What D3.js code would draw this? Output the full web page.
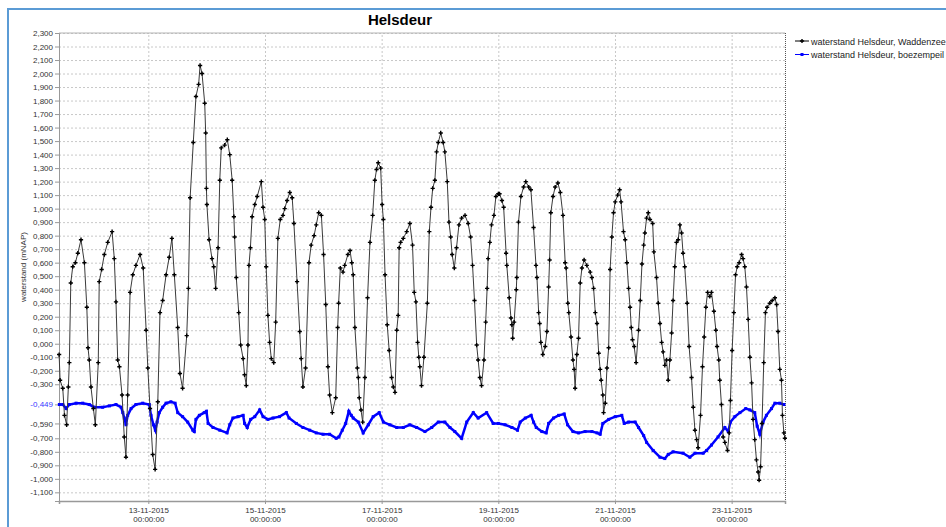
<!DOCTYPE html>
<html>
<head>
<meta charset="utf-8">
<title>Helsdeur</title>
<script src="https://cdn.jsdelivr.net/npm/d3@7"></script>
<style>
  body { margin: 0; background: #fff; }
  svg { display: block; font-family: "Liberation Sans", Arial, sans-serif; }
</style>
</head>
<body>
<div id="chart"></div>
<script>
// hours since 11-11-2015 00:00
const t0 = new Date(2015, 10, 11, 0, 0, 0);
const xStartHours = 11.25, xEndHours = 309.95;

const wadHours = [11.3,11.7,12.8,13.5,14.4,15.1,15.5,16.1,16.9,18.0,19.0,20.3,21.7,22.7,23.2,23.7,24.4,25.4,26.2,27.4,27.8,28.8,29.9,31.3,33.1,34.0,34.7,35.4,36.1,37.2,38.1,38.8,39.5,40.5,41.6,42.9,44.6,45.9,47.1,47.8,48.7,49.8,50.8,51.9,52.8,53.9,55.3,56.6,57.7,58.7,60.1,61.0,62.1,63.8,64.5,65.2,66.5,67.6,68.7,69.3,70.1,71.2,71.6,71.9,72.1,73.0,74.2,74.9,75.7,76.7,77.4,78.0,79.4,80.5,81.5,82.5,83.2,83.5,84.2,85.2,86.0,87.0,87.6,88.3,89.0,89.4,90.0,90.7,91.8,92.8,94.5,95.2,95.9,96.5,97.2,97.9,98.6,99.6,100.4,101.3,102.3,103.4,104.1,105.1,106.2,107.2,107.9,109.2,110.3,110.9,111.6,112.7,114.1,115.0,116.2,117.1,118.1,119.2,120.1,121.0,121.9,122.6,123.7,125.1,125.9,126.3,127.0,128.1,128.8,130.1,131.0,131.7,132.3,133.0,134.0,134.4,134.8,135.5,136.2,137.1,138.2,139.2,140.3,141.2,141.9,142.6,143.6,144.2,144.7,145.4,146.3,147.1,148.1,148.8,149.5,150.2,150.8,151.2,151.8,152.9,154.3,155.6,156.7,157.4,158.1,158.8,159.3,159.7,160.4,161.4,162.8,163.6,164.3,165.0,165.9,166.6,167.3,168.3,169.3,170.0,171.0,171.7,172.4,173.0,173.9,174.8,175.8,176.9,178.3,179.6,180.6,181.4,182.2,183.1,183.7,184.4,185.1,186.1,186.8,187.4,187.8,188.5,189.2,190.2,191.0,192.0,192.5,193.5,194.2,195.2,195.5,196.5,197.2,197.6,197.9,198.5,199.4,199.6,200.3,201.3,202.4,203.3,204.5,205.4,206.5,207.5,207.9,208.6,209.0,209.5,210.3,211.3,212.0,212.7,213.1,213.6,214.5,215.4,216.5,217.5,218.6,219.5,219.9,220.6,221.0,221.9,222.7,223.2,223.6,224.3,225.0,225.7,226.4,227.3,228.4,229.8,230.5,231.2,231.9,232.6,233.3,233.9,234.3,235.0,235.3,236.0,236.7,237.4,238.0,238.7,239.4,240.1,241.1,241.9,242.5,243.5,244.2,244.9,245.6,246.2,246.7,247.2,247.9,248.7,249.7,250.4,251.1,251.8,252.3,253.0,253.7,254.4,255.5,256.0,257.1,257.8,258.5,259.2,259.8,260.5,261.2,261.9,262.6,263.3,263.9,264.6,265.3,266.0,266.7,267.4,268.0,268.7,269.7,270.5,271.5,272.2,272.9,273.6,274.2,275.2,276.0,276.7,277.4,278.1,279.0,279.7,280.7,281.5,282.0,282.7,283.1,283.8,284.5,285.2,286.3,287.0,287.5,288.2,288.9,289.6,290.3,291.1,292.1,292.7,293.4,294.1,294.8,295.5,296.2,296.8,297.5,298.2,298.9,299.3,299.9,300.5,301.2,301.9,302.6,303.7,304.7,305.8,306.5,307.1,307.8,308.5,308.9,309.5,309.9];
const wadLevel = [-0.08,-0.27,-0.33,-0.53,-0.60,-0.32,-0.14,0.45,0.57,0.60,0.67,0.77,0.60,0.27,-0.03,-0.12,-0.32,-0.48,-0.60,-0.14,0.46,0.55,0.66,0.75,0.83,0.63,0.31,-0.12,-0.17,-0.38,-0.69,-0.84,-0.38,0.38,0.51,0.58,0.66,0.56,0.10,-0.18,-0.48,-0.82,-0.93,-0.43,0.23,0.32,0.51,0.64,0.78,0.51,0.12,-0.22,-0.33,0.06,0.41,1.08,1.49,1.83,1.92,2.06,2.00,1.78,1.56,1.15,1.03,0.77,0.63,0.57,0.41,0.71,1.21,1.45,1.47,1.51,1.40,1.21,0.94,0.79,0.49,0.23,-0.01,-0.11,-0.23,-0.31,-0.01,0.58,0.71,0.94,1.03,1.09,1.20,1.01,0.92,0.57,0.21,0.01,-0.11,-0.14,0.16,0.78,0.92,0.95,1.00,1.06,1.12,1.08,0.89,0.46,0.09,-0.11,-0.32,-0.18,0.60,0.73,0.80,0.88,0.97,0.95,0.66,0.29,-0.17,-0.38,-0.51,-0.40,0.12,0.30,0.56,0.53,0.58,0.66,0.69,0.60,0.51,0.12,-0.18,-0.25,-0.40,-0.49,-0.58,-0.25,0.34,0.75,0.95,1.21,1.29,1.34,1.30,1.03,0.92,0.51,0.14,-0.05,-0.25,-0.32,-0.36,0.10,0.21,0.71,0.75,0.78,0.83,0.89,0.73,0.38,0.31,0.01,-0.10,-0.17,-0.31,-0.10,0.30,0.83,1.01,1.15,1.21,1.42,1.49,1.56,1.49,1.42,1.20,0.90,0.79,0.66,0.56,0.71,0.88,0.93,0.95,0.89,0.79,0.58,0.32,-0.01,-0.12,-0.25,-0.31,-0.12,0.16,0.41,0.63,0.75,0.88,0.95,1.09,1.11,1.11,1.06,1.01,0.67,0.58,0.34,0.19,0.14,0.04,0.16,0.40,0.49,0.90,1.09,1.16,1.20,1.16,1.14,0.86,0.58,0.49,0.23,0.15,0.01,-0.08,-0.02,0.09,0.42,0.62,0.97,1.09,1.16,1.19,1.12,0.95,0.60,0.56,0.30,0.23,0.05,-0.12,-0.19,-0.33,-0.08,0.04,0.45,0.56,0.62,0.58,0.53,0.49,0.41,0.23,0.15,-0.07,-0.19,-0.27,-0.38,-0.51,-0.44,-0.18,-0.03,0.55,0.79,0.97,1.05,1.10,1.14,1.05,0.83,0.77,0.60,0.41,0.27,0.12,0.03,-0.02,-0.14,0.10,0.32,0.59,0.73,0.82,0.93,0.97,0.92,0.89,0.68,0.49,0.30,0.15,0.01,-0.06,-0.16,-0.12,-0.27,-0.12,0.08,0.32,0.57,0.75,0.77,0.88,0.82,0.67,0.57,0.30,-0.02,-0.25,-0.47,-0.64,-0.71,-0.77,-0.53,-0.17,0.05,0.27,0.38,0.35,0.38,0.24,0.10,-0.02,-0.12,-0.27,-0.45,-0.69,-0.73,-0.79,-0.66,-0.42,-0.05,0.23,0.51,0.57,0.60,0.66,0.63,0.57,0.42,0.18,-0.10,-0.29,-0.56,-0.71,-0.86,-0.95,-1.01,-0.91,-0.59,-0.14,0.23,0.27,0.30,0.32,0.34,0.29,0.09,-0.19,-0.27,-0.53,-0.66,-0.70];

const boezHours = [11.4,12.8,14.2,15.5,18.3,21.0,23.7,25.8,29.2,32.0,34.7,36.8,37.5,38.1,38.8,39.5,40.9,42.9,45.7,48.4,49.1,50.1,50.9,51.6,52.5,53.9,55.3,57.3,59.0,60.1,62.1,64.2,66.3,66.9,67.6,69.0,71.0,71.9,72.6,74.6,77.4,80.4,81.5,82.8,84.9,87.0,87.6,88.7,90.1,91.8,93.8,95.2,97.2,99.3,102.0,104.8,105.9,108.9,111.6,114.4,117.1,119.9,122.6,125.3,126.4,127.8,129.2,130.5,131.5,132.3,134.4,136.4,138.5,140.5,143.0,144.7,147.4,150.2,152.9,155.6,158.4,161.8,164.6,167.3,170.0,172.1,174.1,176.9,179.0,181.7,183.7,187.2,189.9,192.0,194.8,197.6,199.9,201.0,203.1,205.5,206.5,207.6,209.9,211.7,212.7,214.7,216.8,219.1,220.5,222.7,225.0,227.7,230.5,232.6,233.9,235.0,237.4,240.1,242.8,243.8,245.6,248.3,249.7,251.8,253.0,255.7,258.5,260.5,261.9,263.9,268.0,270.8,272.9,276.3,277.7,279.7,282.4,285.2,286.6,287.5,289.3,291.4,293.8,295.5,297.5,298.5,299.6,300.9,302.3,304.4,305.8,307.8,309.5];
const boezLevel = [-0.45,-0.45,-0.48,-0.45,-0.44,-0.44,-0.45,-0.47,-0.47,-0.46,-0.45,-0.47,-0.51,-0.55,-0.60,-0.53,-0.48,-0.45,-0.44,-0.45,-0.53,-0.60,-0.64,-0.58,-0.51,-0.47,-0.44,-0.43,-0.44,-0.51,-0.54,-0.58,-0.64,-0.65,-0.56,-0.53,-0.51,-0.50,-0.59,-0.62,-0.64,-0.66,-0.60,-0.55,-0.54,-0.53,-0.59,-0.62,-0.56,-0.54,-0.49,-0.54,-0.56,-0.55,-0.54,-0.51,-0.55,-0.59,-0.62,-0.64,-0.66,-0.67,-0.67,-0.70,-0.69,-0.64,-0.59,-0.50,-0.53,-0.55,-0.58,-0.66,-0.60,-0.54,-0.51,-0.58,-0.60,-0.62,-0.62,-0.60,-0.62,-0.65,-0.62,-0.58,-0.58,-0.62,-0.65,-0.70,-0.58,-0.51,-0.55,-0.51,-0.59,-0.59,-0.60,-0.62,-0.64,-0.58,-0.55,-0.53,-0.58,-0.62,-0.65,-0.66,-0.59,-0.55,-0.53,-0.52,-0.60,-0.65,-0.66,-0.65,-0.65,-0.66,-0.67,-0.59,-0.56,-0.54,-0.53,-0.59,-0.58,-0.58,-0.62,-0.68,-0.73,-0.79,-0.84,-0.85,-0.82,-0.80,-0.81,-0.84,-0.81,-0.81,-0.79,-0.75,-0.69,-0.62,-0.65,-0.58,-0.54,-0.51,-0.48,-0.49,-0.51,-0.61,-0.67,-0.58,-0.53,-0.48,-0.44,-0.44,-0.45];

const yTicks = [2.3,2.2,2.1,2.0,1.9,1.8,1.7,1.6,1.5,1.4,1.3,1.2,1.1,1.0,0.9,0.8,0.7,0.6,0.5,0.4,0.3,0.2,0.1,0,-0.1,-0.2,-0.3,-0.449,-0.59,-0.7,-0.8,-0.9,-1.0,-1.1];
const highlightTick = -0.449;
const xTickDates = [new Date(2015,10,13), new Date(2015,10,15), new Date(2015,10,17), new Date(2015,10,19), new Date(2015,10,21), new Date(2015,10,23)];
const seriesNames = ["waterstand Helsdeur, Waddenzee", "waterstand Helsdeur, boezempeil"];
const seriesColors = ["#000000", "#0000ff"];

const toDate = h => new Date(t0.getTime() + h * 3600e3);
const wadData = wadHours.map((h, i) => ({t: toDate(h), v: wadLevel[i]}));
const boezData = boezHours.map((h, i) => ({t: toDate(h), v: boezLevel[i]}));

const svgWidth = 946, svgHeight = 527;
const margin = {top: 33, right: 161, bottom: 26, left: 59},
      width = svgWidth - margin.left - margin.right,
      height = svgHeight - margin.top - margin.bottom;

const svg = d3.select("#chart").append("svg")
    .attr("width", svgWidth)
    .attr("height", svgHeight);

// outer frame (blue edge at top and left)
svg.append("line").attr("x1", 8).attr("x2", 8).attr("y1", 8).attr("y2", svgHeight)
    .attr("stroke", "#5b9bd5").attr("stroke-width", 2);
svg.append("line").attr("x1", 7).attr("x2", svgWidth).attr("y1", 9).attr("y2", 9)
    .attr("stroke", "#5b9bd5").attr("stroke-width", 2);

const nl = d3.formatLocale({decimal: ",", thousands: ".", grouping: [3], currency: ["", ""], minus: "-"});
const fmt = nl.format(".3f");

const x = d3.scaleTime()
    .domain([toDate(xStartHours), toDate(xEndHours)])
    .range([0, width]);
const y = d3.scaleLinear()
    .domain([2.3 - height / 135.1, 2.3])
    .range([height, 0]);

const g = svg.append("g")
    .attr("transform", "translate(" + margin.left + "," + margin.top + ")");

// grid
g.append("g")
    .attr("class", "grid")
    .call(d3.axisLeft(y).tickValues(yTicks).tickSize(-width).tickFormat(""))
    .call(s => s.select(".domain").remove())
    .selectAll("line")
        .attr("stroke", "#c8c8c8")
        .attr("stroke-dasharray", "2,2");
g.append("g")
    .attr("class", "grid")
    .attr("transform", "translate(0," + height + ")")
    .call(d3.axisBottom(x).tickValues(xTickDates).tickSize(-height).tickFormat(""))
    .call(s => s.select(".domain").remove())
    .selectAll("line")
        .attr("stroke", "#c8c8c8")
        .attr("stroke-dasharray", "2,2");

// top and right border
g.append("line").attr("x1", 0).attr("x2", width).attr("y1", 0).attr("y2", 0)
    .attr("stroke", "#b4b4b4");
g.append("line").attr("x1", width + 0.5).attr("x2", width + 0.5).attr("y1", 0).attr("y2", height)
    .attr("stroke", "#555").attr("stroke-dasharray", "1,1");

// Y axis
const yAxis = g.append("g")
    .call(d3.axisLeft(y).tickValues(yTicks).tickFormat(fmt).tickSize(4).tickPadding(2));
yAxis.select(".domain").attr("stroke", "#999");
yAxis.selectAll(".tick line").attr("stroke", "#999");
yAxis.selectAll(".tick text")
    .attr("font-size", 8)
    .attr("font-family", "Liberation Sans, Arial, sans-serif")
    .attr("fill", d => d === highlightTick ? "#3838ff" : "#333");

// X axis
const xAxis = g.append("g")
    .attr("transform", "translate(0," + height + ")")
    .call(d3.axisBottom(x).tickValues(xTickDates).tickSize(3).tickFormat(""));
xAxis.select(".domain").attr("stroke", "#999").attr("stroke-width", 1.5);
xAxis.selectAll(".tick line").attr("stroke", "#999");
const xl = xAxis.selectAll(".tick").append("text")
    .attr("fill", "#333")
    .attr("font-size", 8)
    .attr("text-anchor", "middle");
xl.append("tspan").attr("x", 0).attr("y", 12).text(d => d3.timeFormat("%d-%m-%Y")(d));
xl.append("tspan").attr("x", 0).attr("y", 21).text(d => d3.timeFormat("%H:%M:%S")(d));

// lines
const line = d3.line().x(d => x(d.t)).y(d => y(d.v));

const plot = g.append("g").attr("class", "charts__data");
plot.append("path")
    .datum(boezData)
    .attr("fill", "none")
    .attr("stroke", seriesColors[1])
    .attr("stroke-width", 2.5)
    .attr("d", line);
plot.append("g").selectAll("rect")
    .data(boezData)
    .enter()
    .append("rect")
        .attr("x", d => x(d.t) - 1.5)
        .attr("y", d => y(d.v) - 1.5)
        .attr("width", 3)
        .attr("height", 3)
        .attr("fill", seriesColors[1]);

plot.append("path")
    .datum(wadData)
    .attr("fill", "none")
    .attr("stroke", "#3a3a3a")
    .attr("stroke-width", 1)
    .attr("d", line);
const cross = d3.symbol().type(d3.symbolCross).size(10);
plot.append("g").selectAll("path")
    .data(wadData)
    .enter()
    .append("path")
        .attr("d", cross)
        .attr("transform", d => "translate(" + x(d.t) + "," + y(d.v) + ")")
        .attr("fill", seriesColors[0]);

// title
svg.append("text")
    .attr("x", 400)
    .attr("y", 25)
    .attr("text-anchor", "middle")
    .attr("font-size", 15)
    .attr("font-weight", "bold")
    .attr("fill", "#000")
    .text("Helsdeur");

// y label
svg.append("text")
    .attr("transform", "translate(26," + (margin.top + height / 2) + ") rotate(-90)")
    .attr("text-anchor", "middle")
    .attr("font-size", 8)
    .attr("fill", "#333")
    .text("waterstand (mNAP)");

// legend
const legend = svg.append("g").attr("transform", "translate(795,41)");
seriesNames.forEach((name, i) => {
    const row = legend.append("g").attr("transform", "translate(0," + i * 13.5 + ")");
    row.append("line").attr("x1", 0).attr("x2", 14).attr("y1", 0).attr("y2", 0)
        .attr("stroke", seriesColors[i]).attr("stroke-width", 1);
    if (i === 0) {
        row.append("path").attr("d", cross).attr("transform", "translate(7,0)").attr("fill", seriesColors[i]);
    } else {
        row.append("rect").attr("x", 5.5).attr("y", -1.5).attr("width", 3).attr("height", 3).attr("fill", seriesColors[i]);
    }
    row.append("text")
        .attr("x", 16)
        .attr("y", 3.5)
        .attr("font-size", 9)
        .attr("fill", "#222")
        .text(name);
});
</script>
</body>
</html>
